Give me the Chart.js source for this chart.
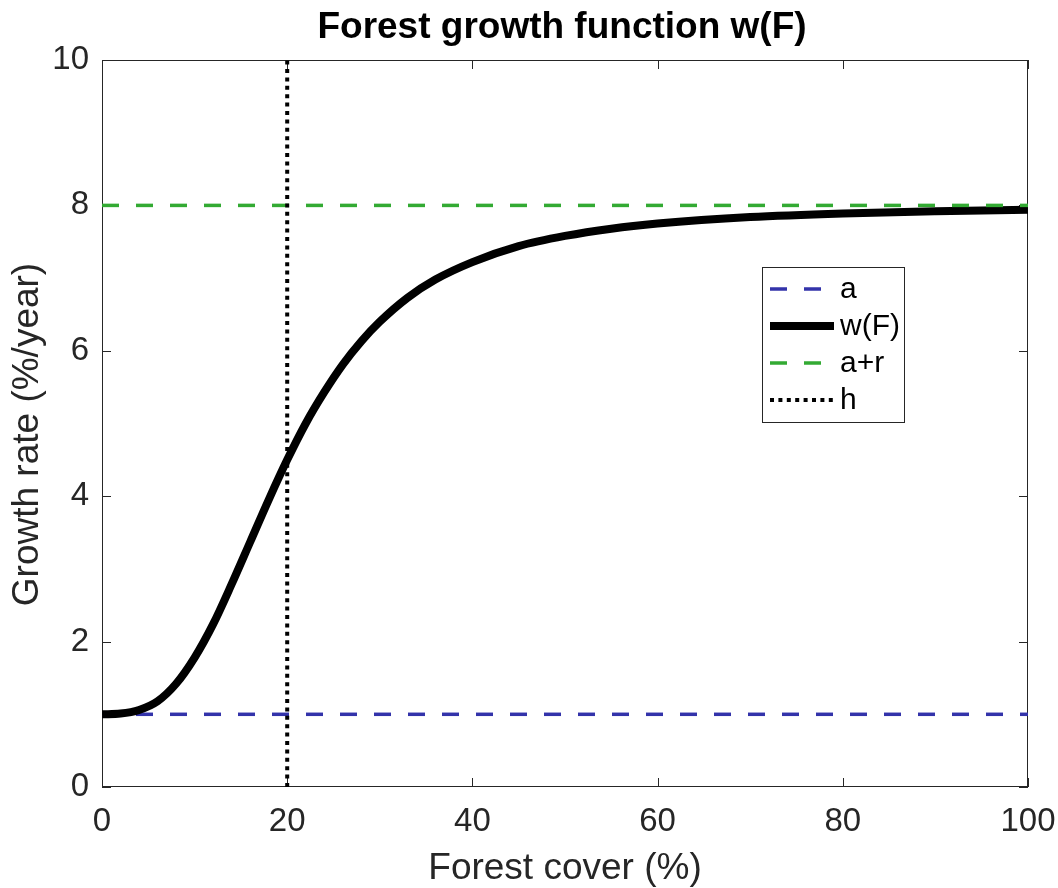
<!DOCTYPE html>
<html>
<head>
<meta charset="utf-8">
<script src="https://cdn.jsdelivr.net/npm/chart.js@4/dist/chart.umd.min.js"></script>
<style>
  html, body { margin: 0; padding: 0; background: #fff; }
  #wrap { width: 1058px; height: 888px; }
</style>
</head>
<body>
<div id="wrap"><canvas id="growthChart" width="1058" height="888"></canvas></div>
<script>
// Forest cover (%) and the growth rate
const forestCover = [0, 2, 4, 6, 8, 10, 12, 14, 16, 18, 20, 22, 24, 26, 28, 30, 33, 36, 40, 45, 50, 55, 60, 70, 80, 90, 100];
const growthRate = [1.00, 1.01, 1.06, 1.18, 1.42, 1.78, 2.24, 2.79, 3.37, 3.95, 4.50, 5.00, 5.43, 5.81, 6.13, 6.40, 6.73, 6.98, 7.22, 7.44, 7.58, 7.68, 7.75, 7.84, 7.89, 7.92, 7.94];

// Reference lines
const baseX = [0, 100];
const baseA = [1, 1];       // a
const baseAR = [8, 8];      // a + r
const hX = [20, 20];        // h
const hY = [0, 10];

const legendLabels = ["a", "w(F)", "a+r", "h"];
const titleText = "Forest growth function w(F)";
const xLabel = "Forest cover (%)";
const yLabel = "Growth rate (%/year)";

const FONT = "'Liberation Sans', Arial, Helvetica, sans-serif";
const AXIS_COLOR = "#262626";
const BLUE = "#3333aa";
const GREEN = "#33aa33";

function pts(xs, ys) {
    return xs.map((x, i) => ({ x: x, y: ys[i] }));
}

// title over the axes and the y label (matlab puts it a bit low)
const titlePlugin = {
    id: "axesTitle",
    afterDraw(chart) {
        const { ctx, chartArea } = chart;
        ctx.save();
        ctx.font = "bold 37px " + FONT;
        ctx.fillStyle = "#000";
        ctx.textAlign = "center";
        ctx.textBaseline = "middle";
        ctx.fillText(titleText, (chartArea.left + chartArea.right) / 2 - 3, 28);

        ctx.translate(28, (chartArea.top + chartArea.bottom) / 2 + 11);
        ctx.rotate(-Math.PI / 2);
        ctx.font = "37px " + FONT;
        ctx.fillStyle = AXIS_COLOR;
        ctx.fillText(yLabel, 0, 0);
        ctx.restore();
    }
};

// box round the axes + ticks pointing inward on all four sides
const boxPlugin = {
    id: "axesBox",
    beforeDatasetsDraw(chart) {
        const { ctx, chartArea: a, scales } = chart;
        const tl = 9;
        ctx.save();
        ctx.strokeStyle = AXIS_COLOR;
        ctx.lineWidth = 1;
        ctx.strokeRect(a.left + 0.5, a.top + 0.5, a.right - a.left - 1, a.bottom - a.top - 1);
        ctx.beginPath();
        scales.x.ticks.forEach(t => {
            const px = Math.round(scales.x.getPixelForValue(t.value)) + 0.5;
            ctx.moveTo(px, a.bottom);
            ctx.lineTo(px, a.bottom - tl);
            ctx.moveTo(px, a.top);
            ctx.lineTo(px, a.top + tl);
        });
        scales.y.ticks.forEach(t => {
            const py = Math.round(scales.y.getPixelForValue(t.value)) + 0.5;
            ctx.moveTo(a.left, py);
            ctx.lineTo(a.left + tl, py);
            ctx.moveTo(a.right, py);
            ctx.lineTo(a.right - tl, py);
        });
        ctx.stroke();
        ctx.restore();
    }
};

// legend box inside the plot
const legendPlugin = {
    id: "insideLegend",
    afterDatasetsDraw(chart) {
        const { ctx, chartArea: a } = chart;
        const bx = a.left + 660, by = a.top + 207, bw = 142, bh = 155;
        ctx.save();
        ctx.fillStyle = "#fff";
        ctx.fillRect(bx, by, bw, bh);
        ctx.strokeStyle = AXIS_COLOR;
        ctx.lineWidth = 1;
        ctx.strokeRect(bx + 0.5, by + 0.5, bw, bh);

        chart.data.datasets.forEach((ds, i) => {
            const y = by + 22 + i * 37;
            ctx.beginPath();
            ctx.strokeStyle = ds.borderColor;
            ctx.lineWidth = ds.borderWidth;
            ctx.setLineDash(ds.borderDash || []);
            ctx.lineCap = "butt";
            ctx.moveTo(bx + 8, y);
            ctx.lineTo(bx + 72, y);
            ctx.stroke();
            ctx.setLineDash([]);
            ctx.fillStyle = "#000";
            ctx.font = "30px " + FONT;
            ctx.textAlign = "left";
            ctx.textBaseline = "middle";
            ctx.fillText(legendLabels[i], bx + 78, y + 1);
        });
        ctx.restore();
    }
};

const ctx = document.getElementById("growthChart");
new Chart(ctx, {
    type: "line",
    data: {
        datasets: [
            {
                label: legendLabels[0],
                data: pts(baseX, baseA),
                borderColor: BLUE,
                borderWidth: 3.5,
                borderDash: [17, 17],
                pointRadius: 0,
                order: 4
            },
            {
                label: legendLabels[1],
                data: pts(forestCover, growthRate),
                borderColor: "#000",
                borderWidth: 8,
                pointRadius: 0,
                cubicInterpolationMode: "monotone",
                order: 3
            },
            {
                label: legendLabels[2],
                data: pts(baseX, baseAR),
                borderColor: GREEN,
                borderWidth: 3.5,
                borderDash: [17, 17],
                pointRadius: 0,
                order: 2
            },
            {
                label: legendLabels[3],
                data: pts(hX, hY),
                borderColor: "#000",
                borderWidth: 4,
                borderDash: [4, 4.4],
                pointRadius: 0,
                order: 1
            }
        ]
    },
    options: {
        responsive: false,
        animation: false,
        devicePixelRatio: 1,
        layout: { padding: { left: 0, top: 60, right: 30, bottom: 0 } },
        plugins: {
            legend: { display: false },
            title: { display: false },
            tooltip: { enabled: false }
        },
        scales: {
            x: {
                type: "linear",
                min: 0,
                max: 100,
                ticks: { stepSize: 20, color: AXIS_COLOR, font: { family: FONT, size: 33 }, padding: 15, maxRotation: 0 },
                grid: { display: false, drawTicks: false },
                border: { display: false },
                title: { display: true, text: xLabel, color: AXIS_COLOR, font: { family: FONT, size: 37 }, padding: { top: 0, bottom: -3 } },
                afterFit: s => { s.height = 101; s.paddingLeft = 0; s.paddingRight = 0; }
            },
            y: {
                type: "linear",
                min: 0,
                max: 10,
                ticks: { stepSize: 2, color: AXIS_COLOR, font: { family: FONT, size: 33 }, padding: 13 },
                grid: { display: false, drawTicks: false },
                border: { display: false },
                afterFit: s => { s.width = 102; s.paddingTop = 0; s.paddingBottom = 0; }
            }
        }
    },
    plugins: [boxPlugin, legendPlugin, titlePlugin]
});
</script>
</body>
</html>
